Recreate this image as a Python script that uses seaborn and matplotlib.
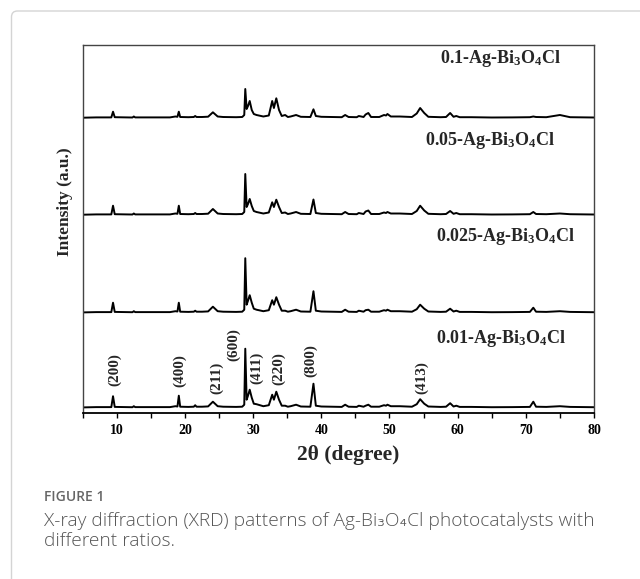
import numpy as np
import pandas as pd
import matplotlib
matplotlib.use("Agg")
import matplotlib.pyplot as plt
from matplotlib.patches import FancyBboxPatch
import seaborn as sns

# DATA (2-theta vertices shared by all patterns, intensities in a.u.)
two_theta = [5.0, 7.0, 9.2, 9.45, 9.7, 12.3, 12.5, 12.7, 17.8, 18.6,
             18.9, 19.1, 19.3, 20.5, 21.3, 21.5, 21.7, 22.5, 23.4, 24.1,
             24.8, 25.6, 27.5, 28.4, 28.7, 28.85, 29.05, 29.25, 29.5, 29.8,
             30.1, 30.5, 31.5, 32.3, 32.8, 33.05, 33.4, 33.8, 34.2, 34.7,
             35.1, 35.5, 36.3, 37.0, 38.4, 38.85, 39.2, 40.0, 41.5, 43.0,
             43.5, 44.0, 45.2, 45.5, 46.2, 46.5, 46.9, 47.3, 48.5, 49.2,
             49.5, 49.7, 50.2, 51.5, 53.3, 54.0, 54.5, 55.1, 55.7, 57.5,
             58.3, 58.9, 59.4, 59.8, 60.3, 62.0, 65.0, 68.0, 70.6, 71.1,
             71.5, 73.0, 75.0, 76.5, 80.0]

int_001 = [0.3, 0.6, 0.6, 11.5, 0.8, 0.5, 1.5, 0.6, 0.6, 1.5,
           1.2, 12.0, 1.0, 0.8, 1.0, 2.5, 1.0, 1.0, 1.3, 6.0,
           1.5, 1.0, 0.8, 1.0, 3.0, 59.0, 8.0, 12.0, 18.0, 10.0,
           4.0, 3.5, 1.5, 2.5, 13.0, 8.0, 16.0, 8.0, 2.0, 2.0,
           1.0, 1.5, 3.0, 1.2, 1.0, 24.0, 2.0, 1.2, 1.0, 0.8,
           3.0, 1.0, 0.8, 2.0, 1.0, 2.0, 3.0, 1.0, 1.0, 2.5,
           2.0, 3.0, 1.5, 1.5, 1.0, 3.5, 8.5, 4.0, 1.2, 0.8,
           1.0, 4.5, 1.2, 2.0, 0.8, 0.8, 0.5, 0.6, 0.8, 6.0,
           1.0, 0.8, 1.5, 0.8, 0.5]

int_0025 = [0.3, 0.6, 0.6, 10.0, 0.8, 0.5, 1.5, 0.6, 0.6, 1.5,
            1.2, 10.0, 1.0, 0.8, 1.0, 2.0, 1.0, 1.0, 1.3, 6.0,
            1.5, 1.0, 0.8, 1.0, 3.0, 54.5, 8.0, 12.0, 17.5, 10.0,
            4.0, 3.0, 1.5, 2.5, 12.5, 8.0, 15.5, 8.0, 2.0, 2.0,
            1.0, 1.5, 3.0, 1.2, 1.0, 21.5, 2.0, 1.2, 1.0, 0.8,
            3.0, 1.0, 0.8, 2.0, 1.0, 2.5, 3.0, 1.0, 1.0, 2.5,
            2.0, 3.0, 1.5, 1.5, 1.0, 3.5, 8.0, 4.0, 1.2, 0.8,
            1.0, 4.0, 1.2, 2.0, 0.8, 0.8, 0.5, 0.6, 0.8, 5.0,
            1.0, 0.8, 1.5, 0.8, 0.5]

int_005 = [0.3, 0.6, 0.6, 9.3, 0.8, 0.5, 1.5, 0.6, 0.6, 1.5,
           1.2, 9.3, 1.0, 0.8, 1.0, 2.0, 1.0, 1.0, 1.3, 6.0,
           1.5, 1.0, 0.8, 1.0, 3.0, 41.0, 8.0, 11.0, 16.0, 9.0,
           4.0, 3.0, 1.5, 2.5, 12.7, 8.0, 15.3, 8.0, 2.0, 2.5,
           1.0, 1.5, 3.0, 1.2, 1.0, 15.5, 2.0, 1.2, 1.0, 0.8,
           3.0, 1.0, 0.8, 2.0, 1.0, 3.5, 4.5, 1.0, 1.0, 2.5,
           2.0, 3.0, 1.5, 1.5, 1.0, 4.0, 9.3, 4.5, 1.2, 0.8,
           1.0, 4.0, 1.2, 2.0, 0.8, 0.8, 0.5, 0.6, 0.8, 3.0,
           1.0, 0.8, 1.5, 0.8, 0.5]

int_01 = [0.3, 0.6, 0.6, 6.3, 0.8, 0.5, 1.5, 0.6, 0.6, 1.5,
          1.2, 6.3, 1.0, 0.8, 1.0, 2.0, 1.0, 1.0, 1.3, 5.7,
          1.5, 1.0, 0.8, 1.0, 3.0, 29.0, 9.0, 12.0, 17.0, 8.0,
          4.0, 3.0, 1.5, 2.5, 17.0, 10.0, 19.7, 8.0, 2.0, 3.0,
          1.0, 1.5, 3.0, 1.2, 1.0, 8.7, 2.0, 1.2, 1.0, 0.8,
          3.0, 1.0, 0.8, 2.0, 1.0, 3.5, 5.0, 1.0, 1.0, 3.0,
          2.5, 4.0, 1.5, 1.5, 1.0, 4.5, 10.0, 5.0, 1.2, 0.8,
          1.0, 5.0, 1.2, 2.0, 0.8, 0.8, 0.5, 0.6, 0.8, 1.5,
          1.0, 0.8, 3.0, 0.8, 0.5]

sample_names = ["0.01", "0.025", "0.05", "0.1"]
offsets = [5, 100, 197.7, 294.7]
label_x = [56.8, 56.8, 55.2, 57.4]
label_y = [74.4, 176.7, 272.7, 353.7]

hkl_labels = ["(200)", "(400)", "(211)", "(600)", "(411)", "(220)", "(800)", "(413)"]
hkl_x = [9.75, 19.27, 24.65, 27.2, 30.55, 33.8, 38.4, 54.7]
hkl_y = [43, 41.7, 34.7, 68, 44.4, 43.7, 51.7, 35.2]

# build long table
frames = []
for name, vals, off in zip(sample_names, [int_001, int_0025, int_005, int_01], offsets):
    frames.append(pd.DataFrame({"two_theta": two_theta,
                                "intensity": np.array(vals) + off,
                                "sample": name}))
xrd_df = pd.concat(frames, ignore_index=True)

sns.set_style("white")
plt.rcParams["font.family"] = ["Liberation Serif", "DejaVu Serif"]
plt.rcParams["font.weight"] = "bold"
plt.rcParams["mathtext.fontset"] = "custom"
plt.rcParams["mathtext.rm"] = "Liberation Serif:bold"
plt.rcParams["mathtext.it"] = "Liberation Serif:bold"
plt.rcParams["mathtext.bf"] = "Liberation Serif:bold"

fig = plt.figure(figsize=(6.4, 5.79), dpi=100)
ax = fig.add_axes([0.1292, 0.2872, 0.7989, 0.6356])

for name in sample_names:
    sns.lineplot(data=xrd_df[xrd_df["sample"] == name], x="two_theta", y="intensity",
                 color="black", linewidth=1.4, sort=False, estimator=None, ax=ax)

ax.set_xlim(5, 80)
ax.set_ylim(0, 368)
ax.set_yticks([])
ax.set_xticks([10, 20, 30, 40, 50, 60, 70, 80])
ax.set_xticks([5, 15, 25, 35, 45, 55, 65, 75], minor=True)
ax.tick_params(axis="x", which="both", direction="out", length=3.3, width=1,
               bottom=True, labelsize=10, pad=5, colors="black")
for lab in ax.get_xticklabels():
    lab.set_fontweight("bold")

for side in ["top", "right", "left"]:
    ax.spines[side].set_color("#444444")
    ax.spines[side].set_linewidth(1.0)
ax.spines["bottom"].set_color("black")
ax.spines["bottom"].set_linewidth(1.3)

ax.set_xlabel("2θ (degree)", fontsize=15.5, fontweight="bold", va="center")
ax.xaxis.set_label_coords(0.52, -0.115)
ax.set_ylabel("Intensity (a.u.)", fontsize=12.5, fontweight="bold", va="center")
ax.yaxis.set_label_coords(-0.035, 0.573)

for name, lx, ly in zip(sample_names, label_x, label_y):
    ax.text(lx, ly, name + "-Ag-Bi$_3$O$_4$Cl", fontsize=13, fontweight="bold",
            ha="left", va="center")

for lab, hx, hy in zip(hkl_labels, hkl_x, hkl_y):
    ax.text(hx, hy, lab, rotation=90, fontsize=11, fontweight="bold",
            ha="center", va="center")

# card border and caption
card = FancyBboxPatch((11.5, -30), 700, 579 - 11 + 30, boxstyle="round,pad=0,rounding_size=6",
                      transform=None, facecolor="none", edgecolor="#d4d4d4", linewidth=1.0)
fig.add_artist(card)

fig.text(44 / 640, 1 - 497 / 579, "FIGURE 1", fontsize=10, color="#666666",
         family=["Open Sans", "DejaVu Sans"], fontweight="semibold", va="center")
fig.text(44 / 640, 1 - 521 / 579,
         "X-ray diffraction (XRD) patterns of Ag-Bi\u2083O\u2084Cl photocatalysts with",
         fontsize=13.8, color="#555555", family=["Open Sans", "DejaVu Sans"],
         fontweight="light", va="center")
fig.text(44 / 640, 1 - 541 / 579, "different ratios.", fontsize=13.8, color="#555555",
         family=["Open Sans", "DejaVu Sans"], fontweight="light", va="center")

plt.savefig("out.png", dpi=100)
